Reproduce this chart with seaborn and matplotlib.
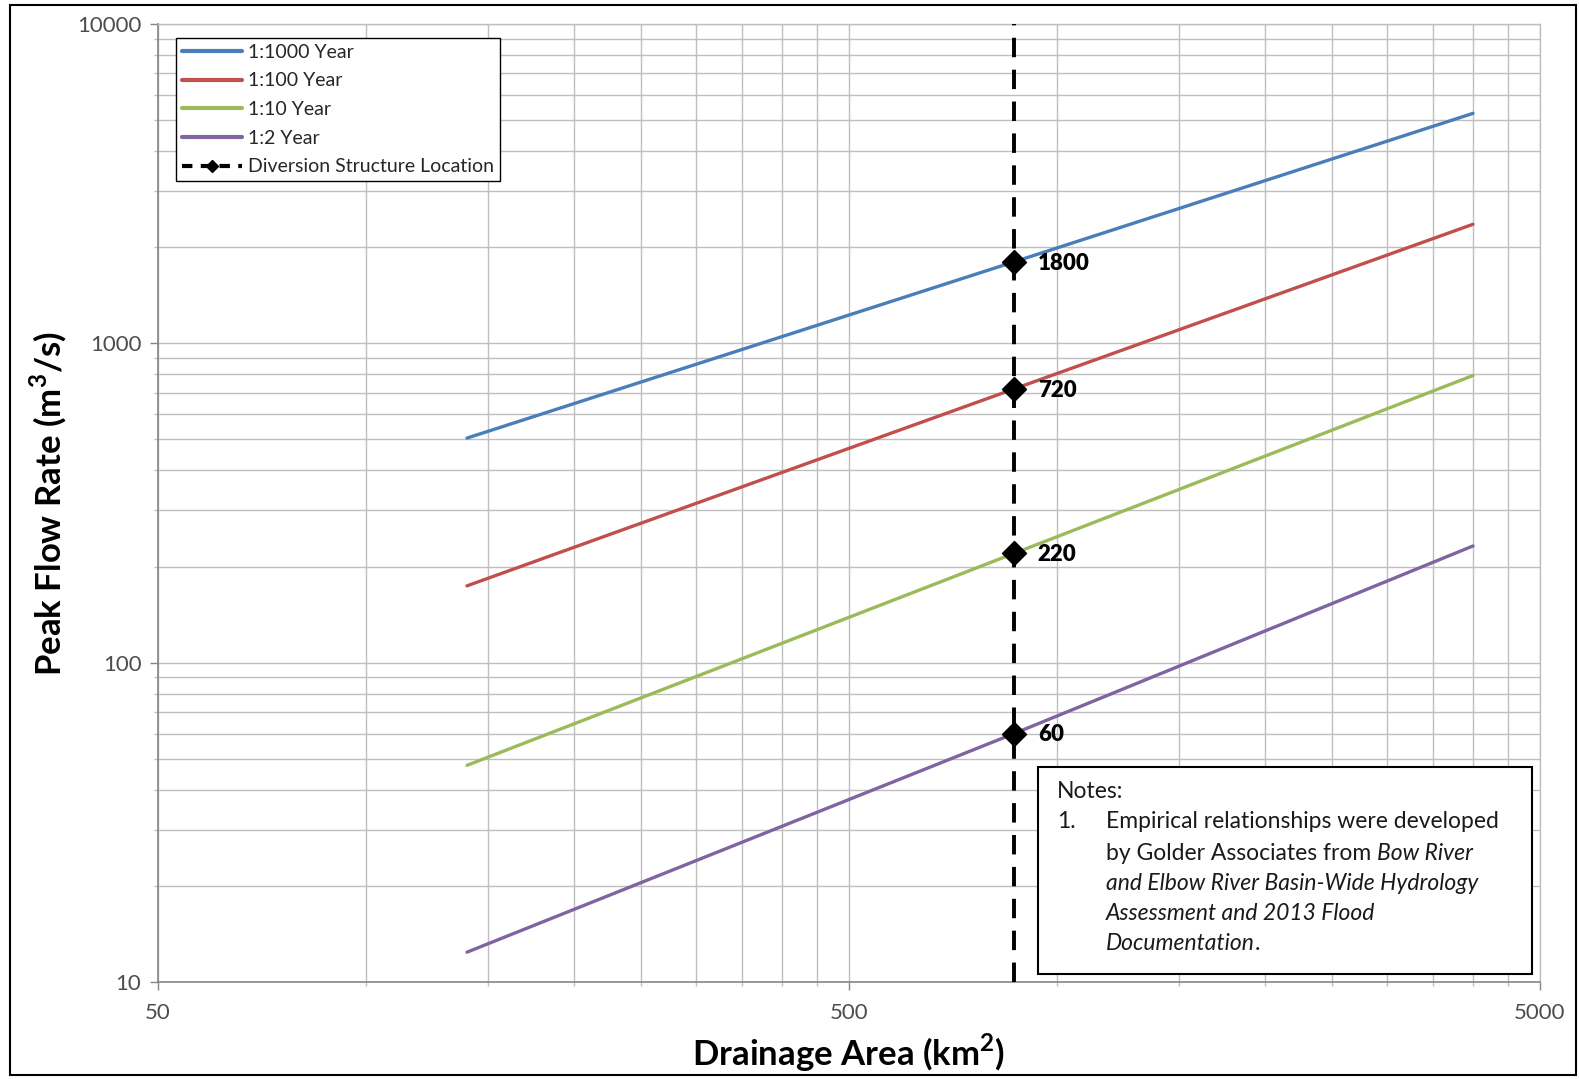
import numpy as np
import pandas as pd
import matplotlib
matplotlib.use('Agg')
import matplotlib.pyplot as plt
import matplotlib.ticker as mticker
from matplotlib.lines import Line2D
from matplotlib.patches import Rectangle
import seaborn as sns

# data
area = [140, 867, 4000]                # drainage area, km2
q_1000 = [505, 1800, 5250]
q_100 = [174, 720, 2360]
q_10 = [47.7, 220, 793]
q_2 = [12.4, 60, 232]
series_names = ['1:1000 Year', '1:100 Year', '1:10 Year', '1:2 Year']
series_colors = ['#4A7EBB', '#C0504D', '#9BBB59', '#8064A2']
diversion_area = 867
diversion_flows = [1800, 720, 220, 60]
diversion_labels = ['1800', '720', '220', '60']

x_major = [50, 500, 5000]
x_minor = [100, 150, 200, 250, 300, 350, 400, 450,
           1000, 1500, 2000, 2500, 3000, 3500, 4000, 4500]
y_major = [10, 100, 1000, 10000]

rows = []
for name, vals in zip(series_names, [q_1000, q_100, q_10, q_2]):
    for a, q in zip(area, vals):
        rows.append({'area': a, 'flow': q, 'series': name})
df = pd.DataFrame(rows)
div_df = pd.DataFrame({'area': [diversion_area] * len(diversion_flows),
                       'flow': diversion_flows})

sns.set_theme(style='white')
plt.rcParams['font.family'] = ['Lato', 'DejaVu Sans']

W, H = 1579, 1079
fig = plt.figure(figsize=(W / 100, H / 100), dpi=100)
L, R, T, B = 158, 1540, 24, 982
ax = fig.add_axes([L / W, 1 - B / H, (R - L) / W, (B - T) / H])

ax.set_xscale('log')
ax.set_yscale('log')
ax.set_xlim(50, 5000)
ax.set_ylim(10, 10000)

sns.lineplot(data=df, x='area', y='flow', hue='series',
             palette=dict(zip(series_names, series_colors)),
             linewidth=2.4, ax=ax, legend=False, zorder=3)

ax.axvline(diversion_area, color='black', linewidth=2.8,
           linestyle=(0, (5, 3.2)), zorder=4)
sns.scatterplot(data=div_df, x='area', y='flow', marker='D', s=150,
                color='black', edgecolor='black', ax=ax, zorder=5, legend=False)
for q, lab in zip(diversion_flows, diversion_labels):
    ax.annotate(lab, (diversion_area, q), xytext=(17, -1), textcoords='offset points',
                va='center', ha='left', fontsize=16, fontweight='heavy', color='black')

# axes, ticks, grid
ax.xaxis.set_major_locator(mticker.FixedLocator(x_major))
ax.xaxis.set_minor_locator(mticker.FixedLocator(x_minor))
ax.xaxis.set_major_formatter(mticker.FixedFormatter([str(v) for v in x_major]))
ax.xaxis.set_minor_formatter(mticker.NullFormatter())
ax.yaxis.set_major_locator(mticker.FixedLocator(y_major))
ax.yaxis.set_major_formatter(mticker.FixedFormatter([str(v) for v in y_major]))
ax.yaxis.set_minor_locator(mticker.LogLocator(base=10, subs=np.arange(2, 10)))
ax.yaxis.set_minor_formatter(mticker.NullFormatter())

ax.grid(True, which='both', color='#BFBFBF', linewidth=1.0, zorder=0)
ax.set_axisbelow(True)
ax.tick_params(axis='both', which='major', direction='out', length=6, width=1,
               color='#868686', labelsize=16, labelcolor='#4d4d4d', pad=6,
               bottom=True, left=True)
ax.tick_params(axis='x', which='major', pad=9)
ax.tick_params(axis='both', which='minor', direction='out', length=3, width=1,
               color='#BFBFBF', bottom=True, left=True)
for side in ['left', 'bottom']:
    ax.spines[side].set_color('#868686')
    ax.spines[side].set_linewidth(1.2)
for side in ['top', 'right']:
    ax.spines[side].set_color('#BFBFBF')
    ax.spines[side].set_linewidth(1.0)

ax.set_xlabel('Drainage Area (km$^\\mathregular{2}$)', fontsize=25, fontweight='bold',
              color='black', labelpad=6)
ax.set_ylabel('Peak Flow Rate (m$^\\mathregular{3}$/s)', fontsize=25, fontweight='bold',
              color='black', labelpad=6)

# legend
handles = [Line2D([], [], color=c, linewidth=3) for c in series_colors]
handles.append(Line2D([], [], color='black', linewidth=3, linestyle=(0, (2.5, 2)),
                      marker='D', markersize=6))
leg = ax.legend(handles, series_names + ['Diversion Structure Location'],
                loc='upper left', bbox_to_anchor=(176 / W, 1 - 38 / H),
                bbox_transform=fig.transFigure, borderaxespad=0, fontsize=14,
                frameon=True, fancybox=False, edgecolor='black', framealpha=1,
                handlelength=3.1, handletextpad=0.3, labelspacing=0.6,
                borderpad=0.3)
leg.get_frame().set_linewidth(1.0)
for t in leg.get_texts():
    t.set_color('#262626')

# notes box
box = Rectangle((1038 / W, 1 - 974 / H), (1532 - 1038) / W, (974 - 767) / H,
                transform=fig.transFigure, facecolor='white', edgecolor='black',
                linewidth=1.5, zorder=6)
fig.patches.append(box)

fs = 16.5
x0, x1 = 1057 / W, 1106 / W
ys = [792, 822, 853, 883, 913, 943]
fy = [1 - y / H for y in ys]
kw = dict(fontsize=fs, color='#1a1a1a', va='center', ha='left', zorder=7)
fig.text(x0, fy[0], 'Notes:', **kw)
fig.text(x0, fy[1], '1.', **kw)
fig.text(x1, fy[1], 'Empirical relationships were developed', **kw)
t1 = fig.text(x1, fy[2], 'by Golder Associates from ', **kw)
fig.text(x1, fy[3], 'and Elbow River Basin-Wide Hydrology', style='italic', **kw)
fig.text(x1, fy[4], 'Assessment and 2013 Flood', style='italic', **kw)
t2 = fig.text(x1, fy[5], 'Documentation', style='italic', **kw)

renderer = fig.canvas.get_renderer()
bb1 = t1.get_window_extent(renderer)
fig.text(bb1.x1 / W, fy[2], 'Bow River', style='italic', **kw)
bb2 = t2.get_window_extent(renderer)
fig.text(bb2.x1 / W, fy[5], '.', **kw)

# outer chart frame
frame = Rectangle((10 / W, 1 - 1075 / H), (1576 - 10) / W, (1075 - 5) / H,
                  transform=fig.transFigure, facecolor='none', edgecolor='black',
                  linewidth=1.5)
fig.patches.append(frame)

fig.savefig('out.png', dpi=100)
